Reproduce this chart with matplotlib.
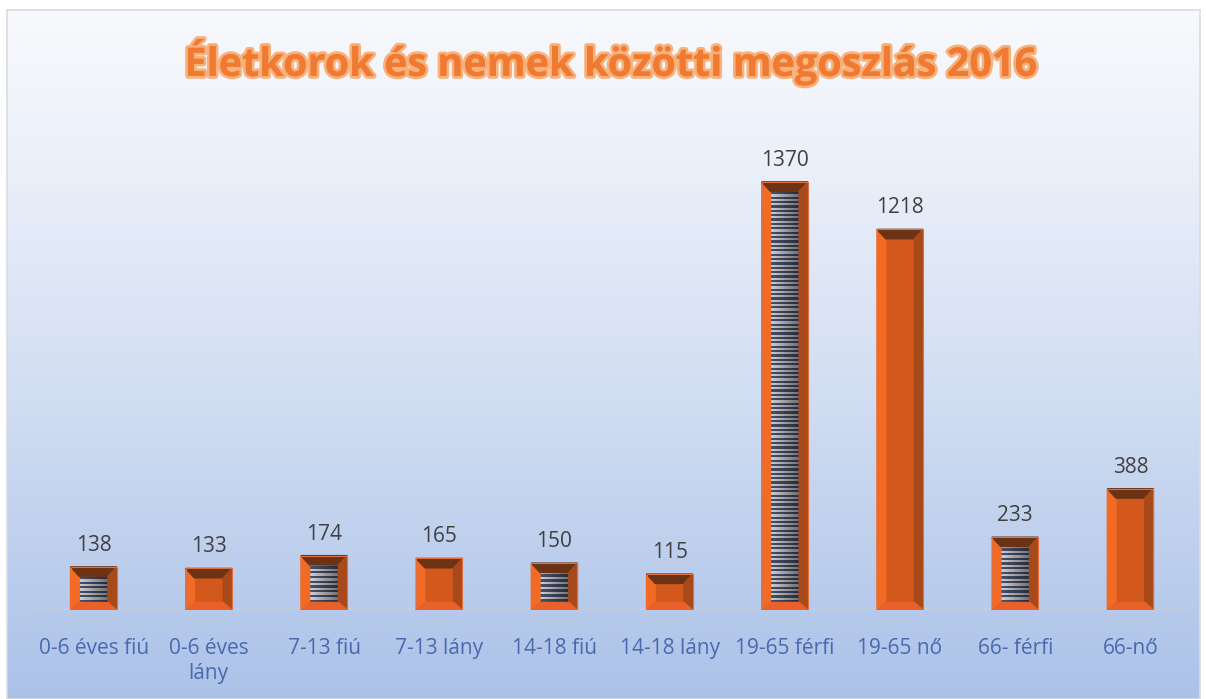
import numpy as np
import matplotlib.pyplot as plt
import matplotlib.patheffects as pe
from matplotlib.patches import Polygon, Rectangle

categories = ['0-6 éves fiú', '0-6 éves\nlány', '7-13 fiú', '7-13 lány', '14-18 fiú',
              '14-18 lány', '19-65 férfi', '19-65 nő', '66- férfi', '66-nő']
values = [138, 133, 174, 165, 150, 115, 1370, 1218, 233, 388]
is_male = [True, False, True, False, True, False, True, False, True, False]
title = 'Életkorok és nemek közötti megoszlás 2016'

plt.rcParams['font.family'] = ['Open Sans', 'DejaVu Sans']

W, H = 1206, 699
fig = plt.figure(figsize=(W / 100, H / 100), dpi=100)
fig.patch.set_facecolor('white')

# gradient background panel
bg = fig.add_axes([7 / W, 0, (1200 - 7) / W, 1 - 10 / H])
grad = np.linspace(0, 1, 256)[:, None]
top = np.array([0.97, 0.975, 0.99])
bot = np.array([0.67, 0.76, 0.91])
img = top + (bot - top) * grad[..., None] ** 1.2
bg.imshow(np.repeat(img, 2, axis=1), aspect='auto', extent=[0, 1, 0, 1], origin='upper')
bg.set_xticks([])
bg.set_yticks([])
for s in bg.spines.values():
    s.set_color('#d8dce4')
    s.set_linewidth(1.2)

ax = fig.add_axes([36 / W, 89 / H, (1188 - 36) / W, 500 / H])
ax.patch.set_alpha(0)
ax.set_xlim(-0.5, len(values) - 0.5)
ax.set_ylim(0, 1600)
for s in ax.spines.values():
    s.set_visible(False)
ax.set_yticks([])

x = np.arange(len(values))
bw = 0.4
bars = ax.bar(x, values, width=bw, color='none', zorder=2)

bx = 0.075          # bevel width in x data units
by = 30             # bevel height in y data units
orange = '#f26a24'
dark = '#6b3214'
mid = '#a8491a'
face = '#d3581c'

for rect, male in zip(bars, is_male):
    x0, y0 = rect.get_x(), rect.get_y()
    x1, y1 = x0 + rect.get_width(), y0 + rect.get_height()
    ix0, ix1, iy0, iy1 = x0 + bx, x1 - bx, y0 + by * 0.8, y1 - by
    # inner face
    if male:
        n = max(int((iy1 - iy0) / 14), 2)
        rows = np.zeros((n * 2, 20, 3))
        shade = np.linspace(1.0, 0.55, 20)
        light = np.array([0.82, 0.80, 0.82])
        darkc = np.array([0.27, 0.32, 0.42])
        for r in range(n * 2):
            c = light if r % 2 == 0 else darkc
            rows[r] = c * shade[:, None]
        ax.imshow(rows, extent=[ix0, ix1, iy0, iy1], aspect='auto',
                  interpolation='nearest', zorder=3)
    else:
        ax.add_patch(Rectangle((ix0, iy0), ix1 - ix0, iy1 - iy0, color=face, zorder=3))
    # bevels
    ax.add_patch(Polygon([(x0, y0), (ix0, iy0), (ix0, iy1), (x0, y1)], color=orange, zorder=3))
    ax.add_patch(Polygon([(x0, y1), (ix0, iy1), (ix1, iy1), (x1, y1)], color=dark, zorder=3))
    ax.add_patch(Polygon([(x1, y1), (ix1, iy1), (ix1, iy0), (x1, y0)], color=mid, zorder=3))
    ax.add_patch(Polygon([(x0, y0), (x1, y0), (ix1, iy0), (ix0, iy0)], color='#e8612a', zorder=3))
    ax.add_patch(Rectangle((x0, y0), x1 - x0, y1 - y0, fill=False, ec='#e07040', lw=0.8, zorder=4))

for xi, v in zip(x, values):
    ax.annotate(str(v), (xi, v), xytext=(0, 8), textcoords='offset points',
                ha='center', va='bottom', fontsize=15, color='#404040')

ax.axhline(0, color='#d6d0ac', lw=2.5, zorder=1)
ax.set_xticks(x)
ax.set_xticklabels(categories, fontsize=15, color='#4a69b0', linespacing=1.25)
ax.tick_params(axis='x', length=0, pad=20)

fig.text(611 / W, 1 - 62 / H, title, ha='center', va='center', fontsize=28.5,
         fontweight='bold', color='#f07a32',
         path_effects=[pe.withStroke(linewidth=4, foreground='#f7b27c'),
                       pe.Normal()])

fig.savefig('out.png', dpi=100)
